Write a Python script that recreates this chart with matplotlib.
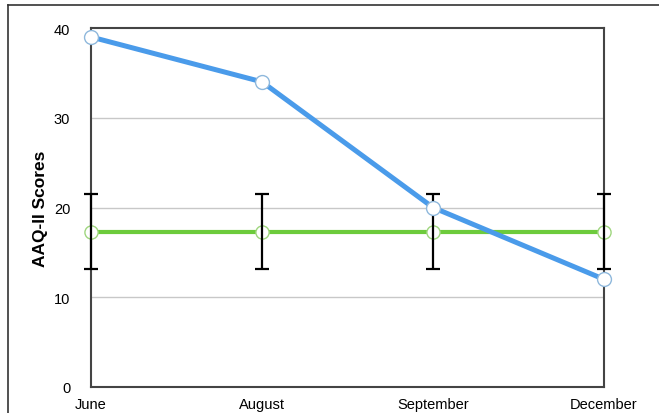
import matplotlib
matplotlib.use("Agg")
import matplotlib.pyplot as plt
from matplotlib.lines import Line2D

plt.rcParams["font.family"] = ["Liberation Sans", "DejaVu Sans"]

months = ["June", "August", "September", "December"]
aaq_scores = [39, 34, 20, 12]
norm_mean = [17.3, 17.3, 17.3, 17.3]
norm_err = [4.15, 4.15, 4.15, 4.15]
y_ticks = [0, 10, 20, 30, 40]

fig = plt.figure(figsize=(6.59, 4.14), dpi=100)
ax = fig.add_axes([91/659, 1-388/414, (604-91)/659, (388-29)/414])

x = list(range(len(months)))
blue = "#4A9BEA"
green = "#6DCB3C"

for y in y_ticks[1:-1]:
    ax.axhline(y, color="#c8c8c8", lw=1, zorder=0)

ax.plot(x, norm_mean, color=green, lw=3, marker="o", ms=9.5,
        mfc="white", mec="#9fd67e", mew=1, zorder=3, clip_on=False)
ax.errorbar(x, norm_mean, yerr=norm_err, fmt="none", ecolor="black",
            elinewidth=1.6, capsize=5, capthick=1.6, zorder=4, clip_on=False)
ax.plot(x, aaq_scores, color=blue, lw=3.6, marker="o", ms=10,
        mfc="white", mec="#8fb8dc", mew=1, zorder=5, clip_on=False)

ax.set_xlim(0, 3)
ax.set_ylim(0, 40)
ax.set_yticks(y_ticks)
ax.set_yticklabels([str(v) for v in y_ticks], fontsize=10.5)
ax.set_xticks(x)
ax.set_xticklabels(months, fontsize=10.5)
ax.tick_params(axis="both", length=0)
ax.tick_params(axis="y", pad=15)
ax.tick_params(axis="x", pad=7)
for s in ax.spines.values():
    s.set_color("#444444")
    s.set_linewidth(1.5)
ax.set_ylabel("AAQ-II Scores", fontsize=12.5, fontweight="bold", labelpad=4)

# outer frame lines (top and left)
fig.add_artist(Line2D([8/659, 1], [1-6/414, 1-6/414], color="#333333", lw=1.2))
fig.add_artist(Line2D([8/659, 8/659], [0, 1-6/414], color="#333333", lw=1.2))

fig.savefig("out.png", dpi=100)
